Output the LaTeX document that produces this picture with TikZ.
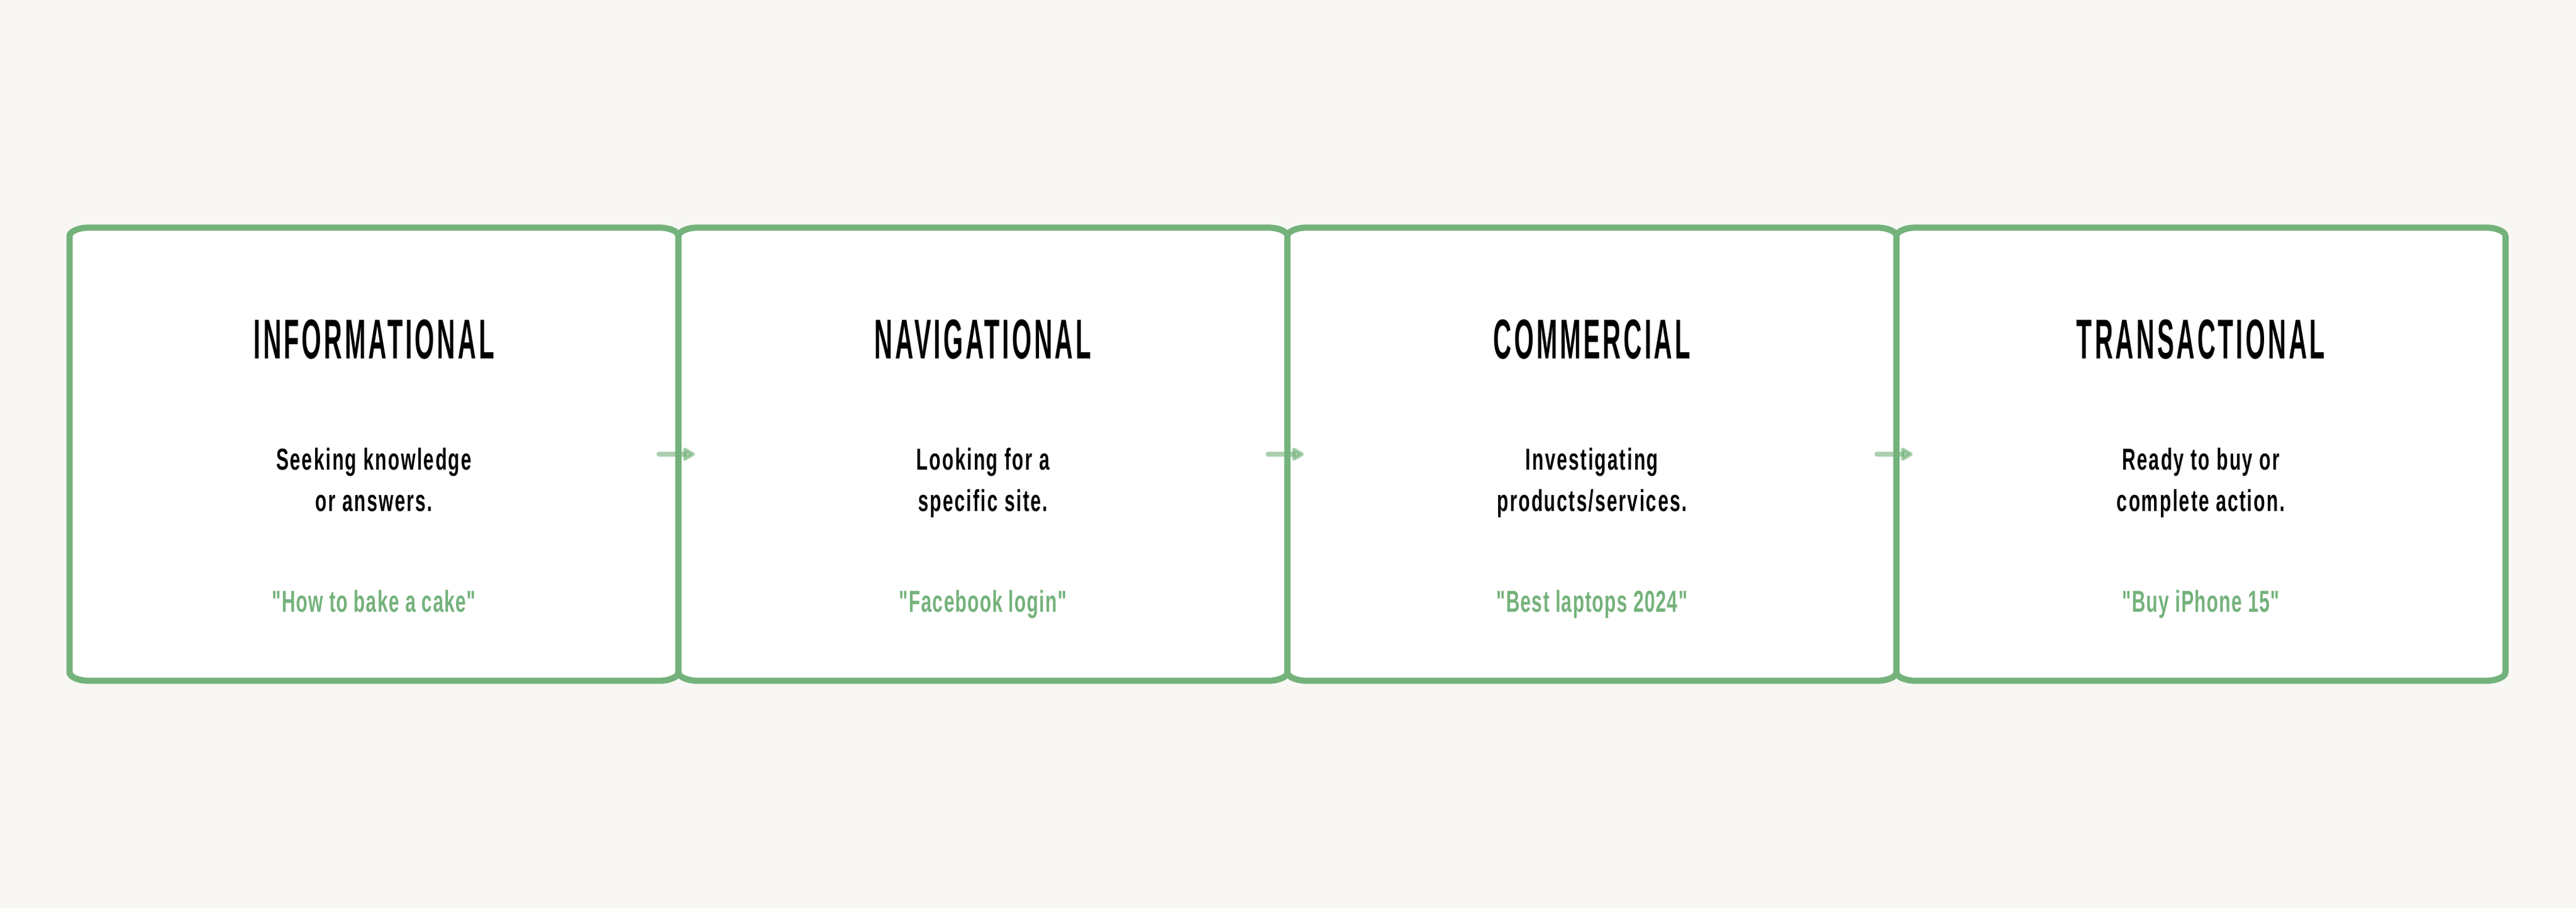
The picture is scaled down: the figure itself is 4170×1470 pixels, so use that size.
\documentclass[tikz,border=0pt]{standalone}
\usepackage{fontspec}
\usetikzlibrary{arrows.meta}
\newfontfamily\titlefont{Liberation Sans Bold}[FakeStretch=0.45,LetterSpace=4.6]
\newfontfamily\bodyfont{Liberation Sans Bold}[FakeStretch=0.62,LetterSpace=4.7]
\newfontfamily\examplefont{Liberation Sans Bold}[FakeStretch=0.62,LetterSpace=2.8]
\definecolor{gr}{RGB}{116,178,123}
\definecolor{bgc}{RGB}{248,247,244}
\newcommand\qbox[2]{% left x, right x
  \path[boxline] (#1+32,368.3) -- (#2-32,368.3)
    arc[start angle=-90,end angle=0,x radius=32,y radius=14]
    -- (#2,1087.7)
    arc[start angle=0,end angle=90,x radius=32,y radius=14]
    -- (#1+32,1101.7)
    arc[start angle=90,end angle=180,x radius=32,y radius=14]
    -- (#1,382.3)
    arc[start angle=180,end angle=270,x radius=32,y radius=14]
    -- cycle;}
\tikzset{
  boxline/.style={draw=gr,fill=white,line width=2pt},
  slot/.style={inner sep=0pt,minimum width=197.16pt,minimum height=146.68pt},
  ttl/.style={font=\titlefont\fontsize{18.15}{20}\selectfont,text=black,inner sep=0pt,anchor=base},
  desc/.style={font=\bodyfont\fontsize{9.8}{13.4}\selectfont,text=black,inner sep=0pt,align=center,anchor=base},
  example/.style={font=\examplefont\fontsize{9.8}{13.4}\selectfont,text=gr,inner sep=0pt,anchor=base},
  flow/.style={draw=gr,fill=gr,draw opacity=0.6,fill opacity=0.6,line width=1.6pt,line cap=round,
    -{Triangle[length=4.4pt,width=4.8pt,round]}}
}
\begin{document}
\begin{tikzpicture}[x=0.2pt,y=-0.2pt]
\useasboundingbox (0,0) rectangle (4170,1470);
\fill[bgc] (0,0) rectangle (4170,1470);
\qbox{112.5}{1098.3}
\qbox{1098.3}{2084.1}
\qbox{2084.1}{3069.9}
\qbox{3069.9}{4055.7}
\node[slot] (b1) at (605.4,735) {};
\node[slot] (b2) at (1591.2,735) {};
\node[slot] (b3) at (2577.0,735) {};
\node[slot] (b4) at (3562.8,735) {};
\draw[flow] ([xshift=-6.5pt]b1.east) -- ([xshift=5.5pt]b2.west);
\draw[flow] ([xshift=-6.5pt]b2.east) -- ([xshift=5.5pt]b3.west);
\draw[flow] ([xshift=-6.5pt]b3.east) -- ([xshift=5.5pt]b4.west);
\node[ttl] (t1) at (605.4,580) {INFORMATIONAL};
\node[ttl] (t2) at (1591.2,580) {NAVIGATIONAL};
\node[ttl] (t3) at (2577.0,580) {COMMERCIAL};
\node[ttl] (t4) at (3562.8,580) {TRANSACTIONAL};
\node[desc] (d1) at (605.4,827) {Seeking knowledge\\or answers.};
\node[desc] (d2) at (1591.2,827) {Looking for a\\specific site.};
\node[desc] (d3) at (2577.0,827) {Investigating\\products/services.};
\node[desc] (d4) at (3562.8,827) {Ready to buy or\\complete action.};
\node[example] (e1) at (605.4,990) {"How to bake a cake"};
\node[example] (e2) at (1591.2,990) {"Facebook login"};
\node[example] (e3) at (2577.0,990) {"Best laptops 2024"};
\node[example] (e4) at (3562.8,990) {"Buy iPhone 15"};
\end{tikzpicture}
\end{document}
